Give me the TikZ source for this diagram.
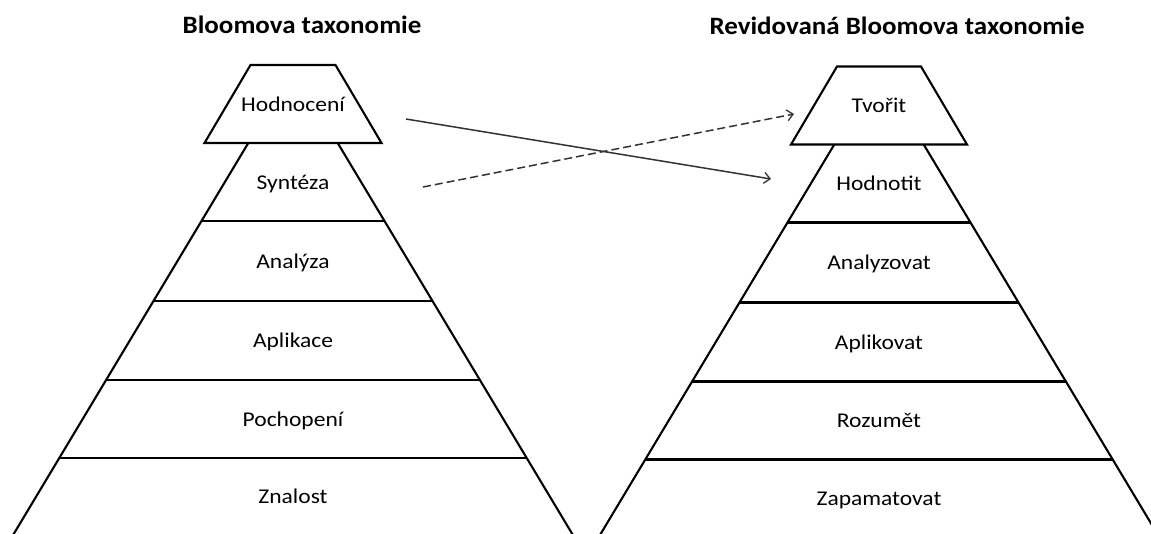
\documentclass[tikz,border=0pt]{standalone}
\usepackage{fontspec}
\setmainfont{Carlito}
\usetikzlibrary{arrows.meta}
\tikzset{
  box/.style={line width=2.1pt, line join=miter},
  lbl/.style={font=\fontsize{21}{25}\selectfont, text=black, anchor=base, inner sep=0pt, xscale=1.12},
  ttl/.style={font=\fontsize{25}{30}\selectfont\bfseries, anchor=base, inner sep=0pt, xscale=1.08},
  link/.style={line width=1.5pt, draw=black!80, -{Straight Barb[length=6pt,width=11pt,line width=1.3pt]}},
}
\begin{document}
\begin{tikzpicture}[x=1pt,y=-1pt]
\useasboundingbox (0,0) rectangle (1151,533);
\fill[white] (0,0) rectangle (1151,533);
\begin{scope}
\clip (0,0) rectangle (1151,533);
% left pyramid
\begin{scope}[shift={(293,0)}]
  \draw[box] (-42.5,65) -- (42.5,65) -- (88.5,143) -- (-88.5,143) -- cycle;
  \draw[box] (-44.7,143) -- (-285.9,545);
  \draw[box] (44.7,143) -- (285.9,545);
  \foreach \y/\h in {221/91.5, 301/139.5, 380/186.9, 458/233.7}
    \draw[box] (-\h,\y) -- (\h,\y);
\end{scope}
% right pyramid
\begin{scope}[shift={(879,1.5)}]
  \draw[box] (-42,65) -- (42,65) -- (88,143) -- (-88,143) -- cycle;
  \draw[box] (-44.7,143) -- (-285.9,545);
  \draw[box] (44.7,143) -- (285.9,545);
  \foreach \y/\h in {221/91.5, 301/139.5, 380/186.9, 458/233.7}
    \draw[box] (-\h,\y) -- (\h,\y);
\end{scope}
\end{scope}
% titles
\node[ttl] (t1) at (302,33.5) {Bloomova taxonomie};
\node[ttl] (t2) at (897,34.5) {Revidovaná Bloomova taxonomie};
% left labels
\node[lbl] (l1) at (293,111) {Hodnocení};
\node[lbl] (l2) at (293,189) {Syntéza};
\node[lbl] (l3) at (293,268) {Analýza};
\node[lbl] (l4) at (293,347.5) {Aplikace};
\node[lbl] (l5) at (293,426) {Pochopení};
\node[lbl] (l6) at (293,503) {Znalost};
% right labels
\node[lbl] (r1) at (879,112.5) {Tvořit};
\node[lbl] (r2) at (879,190.5) {Hodnotit};
\node[lbl] (r3) at (879,269.5) {Analyzovat};
\node[lbl] (r4) at (879,349) {Aplikovat};
\node[lbl] (r5) at (879,427.5) {Rozumět};
\node[lbl] (r6) at (879,505) {Zapamatovat};
% arrows
\coordinate (s1) at (406,119);
\coordinate (e1) at (771,179);
\coordinate (s2) at (423,187);
\coordinate (e2) at (794,114);
\draw[link] (s1) -- (e1);
\draw[link, dash pattern=on 8pt off 4pt] (s2) -- (e2);
\end{tikzpicture}
\end{document}
